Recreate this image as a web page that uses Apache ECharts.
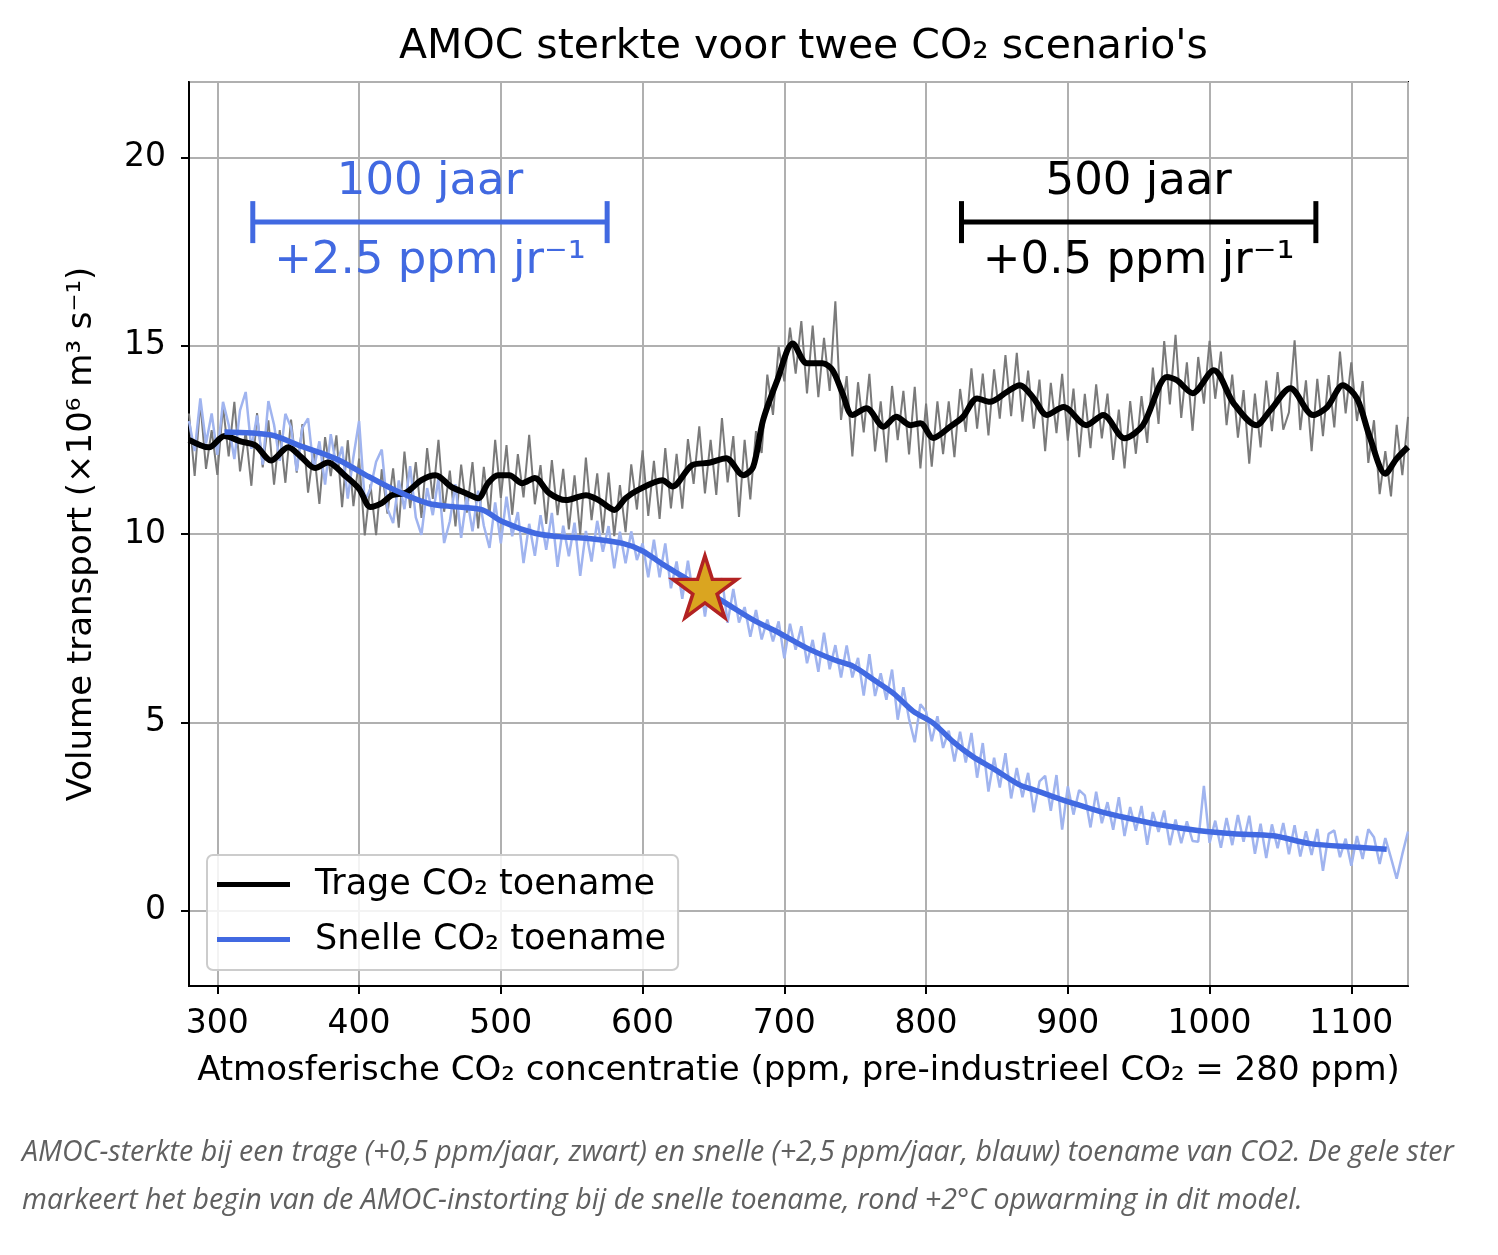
<!DOCTYPE html>
<html>
<head>
<meta charset="utf-8">
<title>AMOC sterkte</title>
<script src="https://cdn.jsdelivr.net/npm/echarts@6/dist/echarts.min.js"></script>
<style>
  html, body { margin: 0; padding: 0; background: #fff; }
  #main { width: 1498px; height: 1255px; }
  #caption {
    position: absolute; left: 22px; top: 1126px; width: 1476px;
    font-family: 'Open Sans', sans-serif; font-style: italic; font-weight: 400;
    font-size: 28.6px; line-height: 48px; color: #606060; white-space: nowrap;
  }
</style>
</head>
<body>
<div id="main"></div>
<div id="caption">AMOC-sterkte bij een trage (+0,5 ppm/jaar, zwart) en snelle (+2,5 ppm/jaar, blauw) toename van CO2. De gele ster<br>markeert het begin van de AMOC-instorting bij de snelle toename, rond +2°C opwarming in dit model.</div>
<script>
// slow scenario, running mean (black)
var slowCo2 = [280,294,305,317,327,338,350,359,369,378,390,400,408,416,423,433,444,454,465,475,484,491,498,506,515,524,534,546,560,569,580,588,597,614,621,635,647,659,671,678,685,695,706,716,727,734,741,748,758,770,779,789,796,805,817,826,836,845,857,866,876,885,897,913,925,940,953,970,977,988,1003,1017,1033,1043,1057,1073,1083,1094,1104,1113,1124,1132,1140];
var slowAmoc = [12.5,12.3,12.6,12.45,12.35,11.95,12.3,12.05,11.75,11.9,11.55,11.2,10.72,10.82,11.03,11.1,11.43,11.56,11.25,11.09,10.95,11.35,11.56,11.56,11.35,11.49,11.09,10.9,11.03,10.9,10.64,10.95,11.17,11.43,11.26,11.83,11.89,12.01,11.56,11.78,13.02,14.08,15.06,14.53,14.53,14.35,13.74,13.16,13.34,12.85,13.11,12.89,12.94,12.55,12.85,13.11,13.6,13.51,13.77,13.95,13.6,13.16,13.37,12.89,13.16,12.54,12.89,14.17,14.08,13.74,14.35,13.47,12.89,13.29,13.87,13.16,13.37,13.95,13.6,12.58,11.6,12.0,12.31];

// fast scenario, running mean (blue)
var fastCo2 = [305,338,357,374,388,407,425,449,468,487,501,524,541,562,586,600,614,628,659,678,697,716,735,749,763,777,791,805,819,833,848,866,876,888,904,923,942,965,993,1017,1045,1071,1102,1125];
var fastAmoc = [12.71,12.63,12.36,12.14,11.92,11.52,11.17,10.81,10.72,10.64,10.33,10.02,9.93,9.88,9.75,9.55,9.2,8.88,8.16,7.72,7.36,6.97,6.66,6.48,6.13,5.77,5.29,4.98,4.49,4.09,3.76,3.34,3.21,3.05,2.85,2.63,2.46,2.28,2.12,2.04,1.99,1.78,1.69,1.63];

// yearly values (noisy lines), sampled every 4 ppm from 280 to 1140 ppm
var rawStart = 280, rawStep = 4;
var slowRaw = [13.2,11.54,13.49,11.73,12.76,11.57,13.38,12.06,13.51,11.66,
  12.72,11.28,13.21,11.77,13.02,11.31,12.76,11.36,13.04,11.63,
  12.92,11.1,12.28,10.8,12.57,11.54,12.62,10.71,12.49,10.74,
  12.0,9.96,11.32,9.97,11.72,10.54,11.74,10.17,12.19,10.69,
  11.91,10.43,12.28,10.93,12.5,10.59,11.68,10.2,11.84,10.57,
  11.91,10.15,11.78,10.48,12.5,10.96,12.36,10.51,12.12,10.97,
  12.63,10.79,11.83,10.27,11.96,10.5,11.73,10.12,11.56,9.99,
  12.03,10.37,11.61,10.03,11.63,9.94,11.3,10.05,11.85,10.65,
  12.22,10.48,11.94,10.4,12.28,10.68,12.13,10.67,12.52,11.33,
  12.86,11.08,12.5,11.04,13.08,11.37,12.6,10.45,12.5,10.92,
  12.73,12.15,14.23,13.16,14.97,14.05,15.48,14.26,15.65,13.73,
  15.53,13.63,15.21,13.8,16.18,13.03,14.19,12.06,14.03,12.7,
  14.25,12.19,13.52,11.9,13.93,12.49,13.8,12.11,13.91,11.74,
  13.46,11.79,13.52,12.12,13.52,12.04,13.85,12.71,14.4,12.8,
  14.26,12.62,14.37,13.06,14.75,13.13,14.81,12.98,14.34,12.8,
  14.1,12.2,14.01,12.68,14.25,12.48,13.86,12.04,13.72,12.28,
  13.97,12.54,13.73,11.97,13.3,11.74,13.53,12.13,13.66,12.42,
  14.42,12.92,15.12,13.44,15.29,13.08,14.56,12.74,14.7,13.46,
  15.13,13.59,14.84,12.89,14.23,12.56,13.82,11.87,13.73,12.3,
  14.07,12.73,14.3,12.77,13.23,15.14,12.76,14.08,12.2,14.12,
  12.6,14.22,12.83,14.84,13.2,14.56,13.0,14.06,11.89,13.02,
  11.06,12.2,11.0,12.9,11.56,13.11];
var fastRaw = [13.0,12.2,13.6,12.4,13.2,12.1,13.51,12.9,11.99,13.28,
  13.77,12.26,13.15,11.84,13.53,12.9,11.94,13.19,12.83,11.67,
  12.82,13.07,11.71,12.46,11.31,12.65,11.79,12.32,10.94,12.05,
  13.0,10.88,11.2,11.92,12.24,10.67,10.29,11.42,10.66,11.8,
  10.44,9.98,11.22,10.5,11.48,9.76,10.34,11.32,9.9,10.99,
  10.07,11.15,10.22,9.63,10.84,9.75,10.99,9.94,10.58,9.23,
  10.27,9.42,10.5,9.58,10.56,9.13,10.22,9.41,10.3,8.89,
  10.08,9.27,10.35,9.53,10.21,9.09,10.06,9.22,10.07,9.31,
  9.75,8.85,9.85,8.85,9.75,8.56,9.27,8.28,9.29,8.3,
  8.9,7.81,8.82,8.02,8.83,7.64,8.54,7.65,8.06,7.27,
  7.98,7.2,7.73,7.15,7.68,6.7,7.62,6.93,7.55,6.57,
  7.19,6.34,7.38,6.41,7.05,6.19,7.04,6.19,6.71,5.71,
  6.81,5.7,6.3,5.6,6.4,5.07,5.93,5.09,4.47,5.48,
  5.29,4.5,5.16,4.32,4.78,3.96,4.75,3.93,4.72,3.53,
  4.45,3.16,4.06,3.27,4.18,2.98,3.79,3.01,3.66,2.61,
  3.43,3.58,2.65,3.6,2.15,3.3,2.55,3.2,3.06,2.21,
  3.16,2.32,2.88,2.15,3.01,1.98,2.75,2.12,2.78,1.75,
  2.62,2.09,2.66,1.74,2.42,1.79,2.37,1.85,1.83,3.31,
  1.8,2.39,1.67,2.46,1.74,2.54,1.83,2.52,1.51,2.31,
  1.4,2.29,1.66,2.33,1.5,2.27,1.44,2.11,1.48,2.17,
  1.06,2.04,2.13,1.42,1.91,1.19,1.98,1.37,2.16,1.95,
  1.24,1.93,1.4,0.85,1.5,2.1];

// start of the collapse (star)
var tipCo2 = 644, tipAmoc = 8.6;

// duration bars: [co2 start, co2 end, amoc level]
var fastBar = [325, 575, 18.28];
var slowBar = [825, 1075, 18.28];
var fastBarText = ['100 jaar', '+2.5 ppm jr\u207B\u00B9'];
var slowBarText = ['500 jaar', '+0.5 ppm jr\u207B\u00B9'];

var seriesNames = ['Trage CO\u2082 toename', 'Snelle CO\u2082 toename'];

var FONT = 'DejaVu Sans';
var BLUE = '#4169e1';

function pairs(xs, ys) {
  var out = [];
  for (var i = 0; i < ys.length; i++) out.push([xs[i], ys[i]]);
  return out;
}
function rawPairs(ys) {
  var out = [];
  for (var i = 0; i < ys.length; i++) out.push([rawStart + i * rawStep, ys[i]]);
  return out;
}
function barSeries(bar, color) {
  return {
    type: 'line', data: [[bar[0], bar[2]], [bar[1], bar[2]]],
    symbol: 'rect', symbolSize: [5, 42], showSymbol: true,
    lineStyle: { color: color, width: 5 }, itemStyle: { color: color },
    silent: true, z: 5
  };
}
function textSeries(bar, texts, color) {
  var mid = (bar[0] + bar[1]) / 2;
  return {
    type: 'scatter', symbolSize: 0, silent: true, z: 6,
    itemStyle: { opacity: 1 },
    data: [
      { value: [mid, bar[2] + 1.05], label: { formatter: texts[0] } },
      { value: [mid, bar[2] - 1.05], label: { formatter: texts[1] } }
    ],
    label: { show: true, position: 'inside', color: color, opacity: 1, fontSize: 45, fontFamily: FONT }
  };
}

var chart = echarts.init(document.getElementById('main'));
chart.setOption({
  animation: false,
  title: {
    text: 'AMOC sterkte voor twee CO\u2082 scenario\'s',
    left: 394, top: 22,
    textStyle: { fontFamily: FONT, fontSize: 41, fontWeight: 'normal', color: '#000' }
  },
  grid: {
    left: 189, right: 90, top: 82, bottom: 269,
    show: true, borderColor: '#000', borderWidth: 2
  },
  legend: {
    data: seriesNames,
    orient: 'vertical', left: 207, top: 855,
    icon: 'rect', itemWidth: 73, itemHeight: 5, itemGap: 20,
    padding: [12, 12, 13, 10],
    borderColor: '#cccccc', borderWidth: 2, borderRadius: 6,
    backgroundColor: 'rgba(255,255,255,0.85)',
    textStyle: { fontFamily: FONT, fontSize: 35, color: '#000', padding: [0, 0, 0, 20] }
  },
  xAxis: {
    type: 'value', min: 280, max: 1140, splitNumber: 9,
    name: 'Atmosferische CO\u2082 concentratie (ppm, pre-industrieel CO\u2082 = 280 ppm)',
    nameLocation: 'middle', nameGap: 68,
    nameTextStyle: { fontFamily: FONT, fontSize: 34, color: '#000' },
    axisLine: { onZero: false, lineStyle: { color: '#000', width: 2 } },
    axisTick: { show: true, length: 8, lineStyle: { color: '#000', width: 2 } },
    axisLabel: {
      fontFamily: FONT, fontSize: 33, color: '#000', margin: 22,
      showMinLabel: false, showMaxLabel: false,
      formatter: function (v) { return String(v); }
    },
    splitLine: { show: true, lineStyle: { color: '#b0b0b0', width: 2 } }
  },
  yAxis: {
    type: 'value', min: -2, max: 22, splitNumber: 5,
    name: 'Volume transport (\u00D710\u2076 m\u00B3 s\u207B\u00B9)',
    nameLocation: 'middle', nameGap: 90,
    nameTextStyle: { fontFamily: FONT, fontSize: 34, color: '#000' },
    axisLine: { onZero: false, lineStyle: { color: '#000', width: 2 } },
    axisTick: { show: true, length: 8, lineStyle: { color: '#000', width: 2 } },
    axisLabel: { fontFamily: FONT, fontSize: 33, color: '#000', margin: 23, showMinLabel: false, showMaxLabel: false },
    splitLine: { show: true, lineStyle: { color: '#b0b0b0', width: 2 } }
  },
  series: [
    {
      name: 'slowRaw', type: 'line', data: rawPairs(slowRaw), showSymbol: false,
      lineStyle: { color: '#7a7a7a', width: 2 }, silent: true, z: 2
    },
    {
      name: 'fastRaw', type: 'line', data: rawPairs(fastRaw), showSymbol: false,
      lineStyle: { color: '#a0b4ef', width: 2.5 }, silent: true, z: 2
    },
    {
      name: seriesNames[0], type: 'line', data: pairs(slowCo2, slowAmoc), showSymbol: false,
      smooth: 0.3, lineStyle: { color: '#000', width: 6 }, itemStyle: { color: '#000' }, z: 3
    },
    {
      name: seriesNames[1], type: 'line', data: pairs(fastCo2, fastAmoc), showSymbol: false,
      smooth: 0.3, lineStyle: { color: BLUE, width: 5.5 }, itemStyle: { color: BLUE }, z: 3
    },
    {
      type: 'scatter', data: [[tipCo2, tipAmoc]], z: 4, silent: true,
      symbol: 'path://M0,-100 L22,-31 L95,-31 L36,12 L59,81 L0,38 L-59,81 L-36,12 L-95,-31 L-22,-31 Z',
      symbolSize: [64, 62],
      itemStyle: { color: '#daa520', borderColor: '#b22222', borderWidth: 3.5, opacity: 1 }
    },
    barSeries(fastBar, BLUE),
    barSeries(slowBar, '#000'),
    textSeries(fastBar, fastBarText, BLUE),
    textSeries(slowBar, slowBarText, '#000')
  ]
});
</script>
</body>
</html>
